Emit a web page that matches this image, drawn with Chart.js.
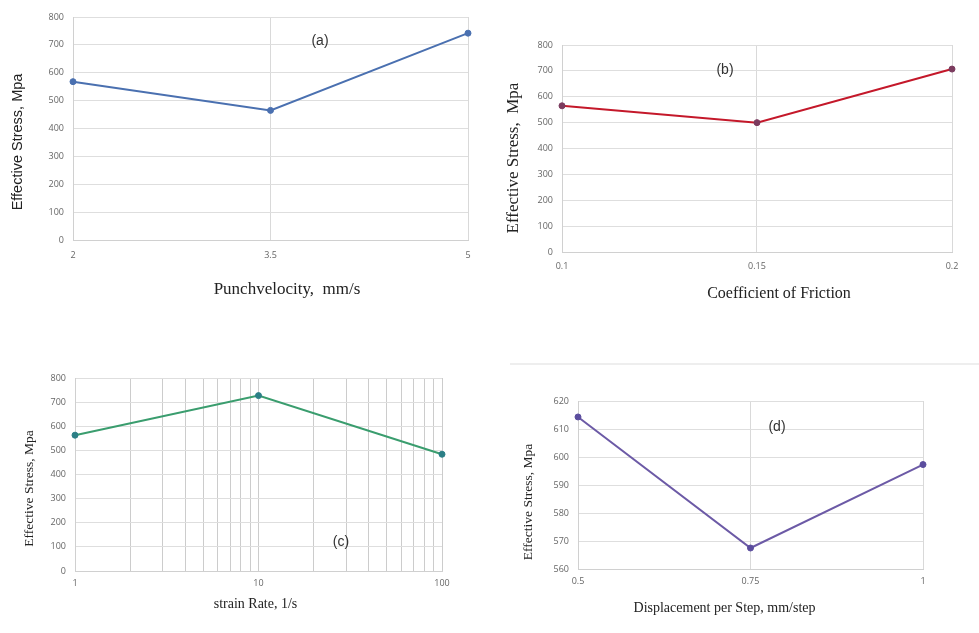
<!DOCTYPE html>
<html>
<head>
<meta charset="utf-8">
<script src="https://cdn.jsdelivr.net/npm/chart.js@4.4.0/dist/chart.umd.min.js"></script>
<style>
    body { margin: 0; background: #fff; width: 979px; height: 633px; overflow: hidden; position: relative; }
    .painel { position: absolute; }
    #linha_topo { position: absolute; left: 510px; top: 363px; width: 469px; height: 2px; background: #eeeeee; }
</style>
</head>
<body>

<div class="painel" style="left:0px;top:0px;width:490px;height:310px"><canvas id="grafico_a"></canvas></div>
<div class="painel" style="left:490px;top:0px;width:489px;height:310px"><canvas id="grafico_b"></canvas></div>
<div class="painel" style="left:0px;top:310px;width:490px;height:323px"><canvas id="grafico_c"></canvas></div>
<div id="linha_topo"></div>
<div class="painel" style="left:490px;top:310px;width:489px;height:323px"><canvas id="grafico_d"></canvas></div>

<script>

//***********************
// Dados
//***********************
const velocidade_punção = [2, 3.5, 5];
const tensao_velocidade = [568, 465, 742];

const coef_atrito = [0.1, 0.15, 0.2];
const tensao_atrito = [565, 500, 707];

const taxa_deformacao = [1, 10, 100];
const tensao_taxa = [563, 727, 484];

const deslocamento_passo = [0.5, 0.75, 1];
const tensao_deslocamento = [614.3, 567.5, 597.3];

// ticks dos eixos
const ticks_x_a = [2, 3.5, 5];
const ticks_x_b = [0.1, 0.15, 0.2];
const ticks_x_c = [1, 2, 3, 4, 5, 6, 7, 8, 9, 10, 20, 30, 40, 50, 60, 70, 80, 90, 100];
const rotulos_x_c = [1, 10, 100];
const ticks_x_d = [0.5, 0.75, 1];


//Plugin simples para escrever os titulos dos eixos e as letras (a), (b)...
const plugin_textos = {
    id: 'textos',
    afterDraw(chart, args, opcoes) {
        const ctx = chart.ctx;
        (opcoes.itens || []).forEach(item => {
            ctx.save();
            ctx.translate(item.x, item.y);
            if (item.rot) ctx.rotate(item.rot);
            ctx.font = item.fonte;
            ctx.fillStyle = item.cor || '#222';
            ctx.textAlign = 'center';
            ctx.textBaseline = 'middle';
            ctx.fillText(item.texto, 0, 0);
            ctx.restore();
        });
    }
};


function criar_grafico(id, xs, ys, cfg) {

    const pontos = xs.map((x, i) => ({x: x, y: ys[i]}));

    return new Chart(document.getElementById(id), {
        type: 'line',
        data: {
            datasets: [{
                data: pontos,
                borderColor: cfg.cor_linha,
                backgroundColor: cfg.cor_ponto,
                pointBackgroundColor: cfg.cor_ponto,
                pointBorderColor: cfg.cor_ponto,
                pointRadius: 3,
                pointBorderWidth: 1,
                borderWidth: 2,
                tension: 0,
                clip: false
            }]
        },
        options: {
            responsive: true,
            maintainAspectRatio: false,
            animation: false,
            layout: { padding: { top: cfg.pad_topo, right: cfg.pad_dir, left: 0, bottom: 0 } },
            plugins: {
                legend: { display: false },
                tooltip: { enabled: false },
                textos: { itens: cfg.textos }
            },
            scales: {
                x: {
                    type: cfg.tipo_x || 'linear',
                    min: cfg.x_min,
                    max: cfg.x_max,
                    afterBuildTicks: s => { s.ticks = cfg.ticks_x.map(v => ({value: v})); },
                    afterFit: s => { s.height = cfg.altura_x; },
                    grid: { color: cfg.cor_grade_x || '#d9d9d9', drawTicks: false },
                    border: { color: '#d0d0d0' },
                    ticks: {
                        autoSkip: false,
                        maxRotation: 0,
                        padding: cfg.pad_ticks_x,
                        color: '#666',
                        font: { family: 'Open Sans', size: 9 },
                        callback: cfg.rotulo_x || (v => String(v))
                    }
                },
                y: {
                    min: cfg.y_min,
                    max: cfg.y_max,
                    ticks: {
                        stepSize: cfg.passo_y,
                        padding: 9,
                        color: '#666',
                        font: { family: 'Open Sans', size: 9 }
                    },
                    afterFit: s => { s.width = cfg.largura_y; },
                    grid: { color: '#dedede', drawTicks: false },
                    border: { color: '#d0d0d0' }
                }
            }
        },
        plugins: [plugin_textos]
    });
}


const serif = 'Liberation Serif';
const sans = 'Liberation Sans';
const vertical = -Math.PI / 2;

criar_grafico('grafico_a', velocidade_punção, tensao_velocidade, {
    cor_linha: '#4a70b0', cor_ponto: '#4a70b0',
    x_min: 2, x_max: 5, ticks_x: ticks_x_a,
    y_min: 0, y_max: 800, passo_y: 100,
    pad_topo: 17, pad_dir: 22, largura_y: 73, altura_x: 70, pad_ticks_x: 10,
    textos: [
        {texto: 'Effective Stress, Mpa', x: 18, y: 142, rot: vertical, fonte: '14.5px ' + sans},
        {texto: 'Punchvelocity,  mm/s', x: 287, y: 290, fonte: '17px ' + serif},
        {texto: '(a)', x: 320, y: 41, fonte: '14px ' + sans, cor: '#333'}
    ]
});

criar_grafico('grafico_b', coef_atrito, tensao_atrito, {
    cor_linha: '#c4182a', cor_ponto: '#7b3b5e',
    x_min: 0.1, x_max: 0.2, ticks_x: ticks_x_b,
    y_min: 0, y_max: 800, passo_y: 100,
    pad_topo: 45, pad_dir: 27, largura_y: 72, altura_x: 58, pad_ticks_x: 9,
    textos: [
        {texto: 'Effective Stress,  Mpa', x: 24, y: 158, rot: vertical, fonte: '17px ' + serif},
        {texto: 'Coefficient of Friction', x: 289, y: 294, fonte: '16px ' + serif},
        {texto: '(b)', x: 235, y: 70, fonte: '14px ' + sans, cor: '#333'}
    ]
});

criar_grafico('grafico_c', taxa_deformacao, tensao_taxa, {
    cor_linha: '#3a9d6e', cor_ponto: '#2b7f86',
    tipo_x: 'logarithmic', x_min: 1, x_max: 100, ticks_x: ticks_x_c,
    rotulo_x: v => rotulos_x_c.includes(v) ? String(v) : '',
    cor_grade_x: '#cccccc',
    y_min: 0, y_max: 800, passo_y: 100,
    pad_topo: 68, pad_dir: 48, largura_y: 75, altura_x: 62, pad_ticks_x: 7,
    textos: [
        {texto: 'Effective Stress, Mpa', x: 29, y: 178.5, rot: vertical, fonte: '13.5px ' + serif},
        {texto: 'strain Rate, 1/s', x: 255.5, y: 294, fonte: '14px ' + serif},
        {texto: '(c)', x: 341, y: 232, fonte: '14px ' + sans, cor: '#333'}
    ]
});

criar_grafico('grafico_d', deslocamento_passo, tensao_deslocamento, {
    cor_linha: '#6c5aa6', cor_ponto: '#5b4d9e',
    x_min: 0.5, x_max: 1, ticks_x: ticks_x_d,
    y_min: 560, y_max: 620, passo_y: 10,
    pad_topo: 91, pad_dir: 56, largura_y: 88, altura_x: 64, pad_ticks_x: 7,
    textos: [
        {texto: 'Effective Stress, Mpa', x: 38, y: 192, rot: vertical, fonte: '13.5px ' + serif},
        {texto: 'Displacement per Step, mm/step', x: 234.5, y: 298.7, fonte: '14px ' + serif},
        {texto: '(d)', x: 287, y: 117, fonte: '14px ' + sans, cor: '#333'}
    ]
});

</script>
</body>
</html>
